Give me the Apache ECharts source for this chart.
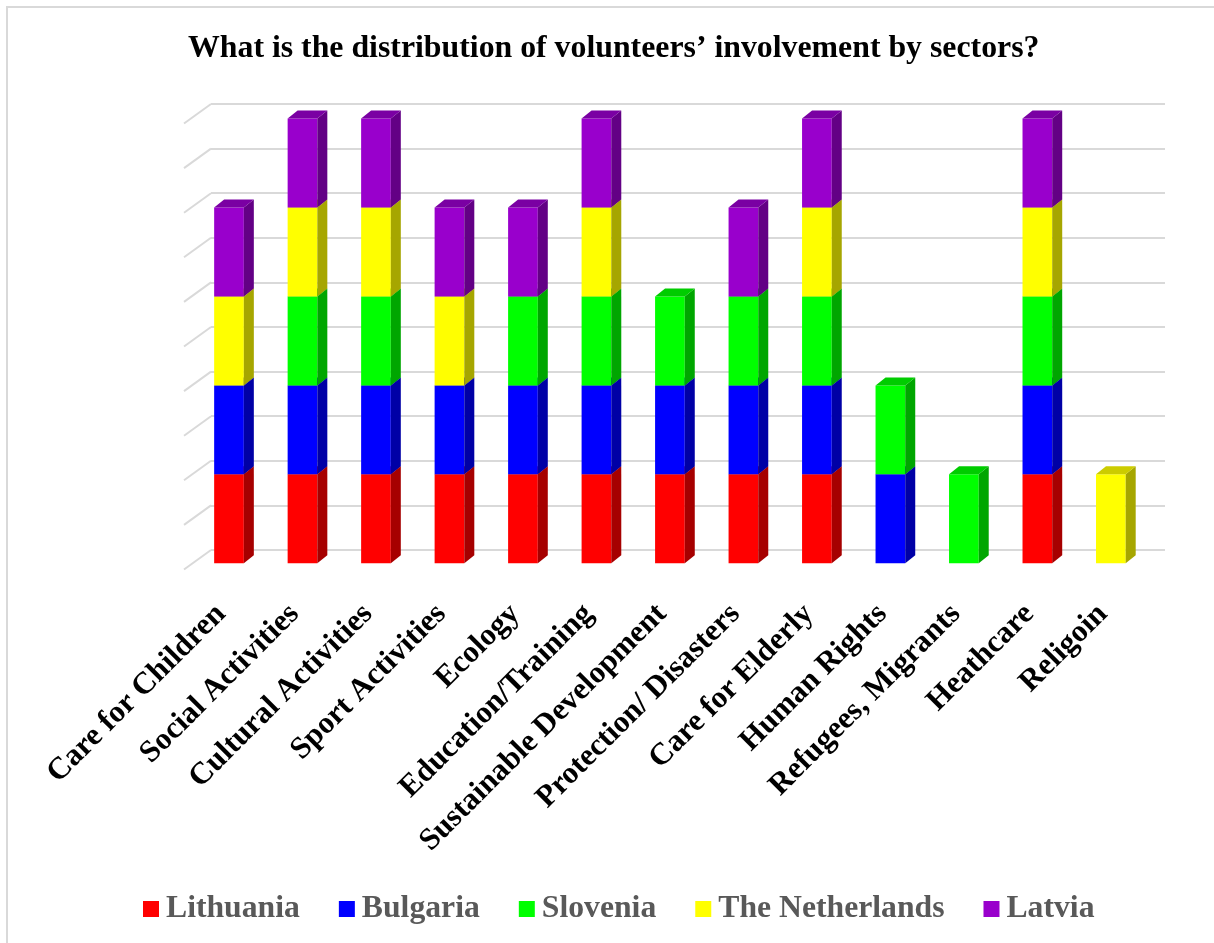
<!DOCTYPE html>
<html><head><meta charset="utf-8">
<script src="https://cdn.jsdelivr.net/npm/echarts@6/dist/echarts.min.js"></script>
<style>html,body{margin:0;padding:0;background:#fff}#c{width:1214px;height:943px}</style>
</head><body><div id="c"></div>
<script>
// ---- data ----
const categories = ['Care for Children','Social Activities','Cultural Activities','Sport Activities','Ecology','Education/Training','Sustainable Development','Protection/ Disasters','Care for Elderly','Human Rights','Refugees, Migrants','Heathcare','Religoin'];
const lithuania   = [1,1,1,1,1,1,1,1,1,0,0,1,0];
const bulgaria    = [1,1,1,1,1,1,1,1,1,1,0,1,0];
const slovenia    = [0,1,1,0,1,1,1,1,1,1,1,1,0];
const netherlands = [1,1,1,1,0,1,0,0,1,0,0,1,1];
const latvia      = [1,1,1,1,1,1,0,1,1,0,0,1,0];
const seriesNames = ['Lithuania','Bulgaria','Slovenia','The Netherlands','Latvia'];
const wallTicks = [0,0.5,1,1.5,2,2.5,3,3.5,4,4.5,5];

// ---- styles ----
const seriesColors = ['#FF0000','#0000FF','#00FF00','#FFFF00','#9900CC'];
const FONT = "'Liberation Serif','Times New Roman',serif";
function shade(hex, f){
  const n = parseInt(hex.slice(1),16);
  const r = Math.round(((n>>16)&255)*f), g = Math.round(((n>>8)&255)*f), b = Math.round((n&255)*f);
  return 'rgb('+r+','+g+','+b+')';
}

const values = [lithuania, bulgaria, slovenia, netherlands, latvia];
const cum = categories.map(()=>0);
const barSeries = values.map((arr, si) => {
  const data = [];
  arr.forEach((v, ci) => { if (v > 0) data.push([ci, cum[ci], cum[ci] + v]); cum[ci] += v; });
  const front = seriesColors[si], side = shade(front, 0.65), top = shade(front, 0.8);
  return {
    type:'custom', name: seriesNames[si], xAxisIndex:1, yAxisIndex:1,
    itemStyle:{color: front}, encode:{x:0, y:[1,2]}, data,
    renderItem(params, api){
      const ci = api.value(0);
      const p0 = api.coord([ci, api.value(1)]);
      const p1 = api.coord([ci, api.value(2)]);
      const w = api.size([1,0])[0]*0.404;
      const xl = p0[0]-w/2, xr = p0[0]+w/2, dx = 10, dy = 8;
      return {type:'group', children:[
        {type:'rect', shape:{x:xl, y:p1[1], width:w, height:p0[1]-p1[1]}, style:{fill:front}},
        {type:'polygon', shape:{points:[[xr,p0[1]],[xr,p1[1]],[xr+dx,p1[1]-dy],[xr+dx,p0[1]-dy]]}, style:{fill:side}},
        {type:'polygon', shape:{points:[[xl,p1[1]],[xr,p1[1]],[xr+dx,p1[1]-dy],[xl+dx,p1[1]-dy]]}, style:{fill:top}}
      ]};
    }
  };
});

const wallSeries = {
  type:'custom', xAxisIndex:0, yAxisIndex:0, silent:true,
  data: wallTicks.map(t=>[0,t]),
  renderItem(params, api){
    const p = api.coord([0, api.value(1)]);
    return {type:'line', shape:{x1:p[0]-27, y1:p[1]+19.5, x2:p[0], y2:p[1]}, style:{stroke:'#D9D9D9', lineWidth:2}};
  }
};

const chart = echarts.init(document.getElementById('c'), null, {renderer:'canvas'});
chart.setOption({
  backgroundColor:'#fff',
  animation:false,
  title:{text:'What is the distribution of volunteers’ involvement by sectors?', left:183, top:28,
    textStyle:{fontFamily:FONT, fontWeight:'bold', fontSize:31.8, color:'#000'}},
  legend:{data:seriesNames, bottom:13, left:138, icon:'rect', itemWidth:16, itemHeight:16, itemGap:39,
    textStyle:{fontFamily:FONT, fontWeight:'bold', fontSize:31.7, color:'#595959', padding:[0,0,0,2]}},
  graphic:[{type:'rect', shape:{x:7, y:7, width:1300, height:1000}, style:{fill:'none', stroke:'#D9D9D9', lineWidth:2}, z:-10}],
  grid:[
    {left:211, right:49, top:104, bottom:393},
    {left:192.25, right:66.4, top:118.5, bottom:379.7},
    {left:184.25, right:74.4, top:118.5, bottom:379.7}
  ],
  xAxis:[
    {gridIndex:0, type:'value', min:0, max:1, show:false},
    {gridIndex:1, type:'category', data:categories, axisLine:{show:false}, axisTick:{show:false}, axisLabel:{show:false}},
    {gridIndex:2, type:'category', data:categories, axisLine:{show:false}, axisTick:{show:false},
     axisLabel:{interval:0, rotate:45, margin:46, fontFamily:FONT, fontWeight:'bold', fontSize:31, color:'#000'}}
  ],
  yAxis:[
    {gridIndex:0, type:'value', min:0, max:5, interval:0.5, axisLabel:{show:false}, axisLine:{show:false}, axisTick:{show:false},
     splitLine:{show:true, lineStyle:{color:'#D9D9D9', width:2}}},
    {gridIndex:1, type:'value', min:0, max:5, show:false, splitLine:{show:false}},
    {gridIndex:2, type:'value', min:0, max:5, show:false, splitLine:{show:false}}
  ],
  series:[wallSeries].concat(barSeries)
});
</script></body></html>
